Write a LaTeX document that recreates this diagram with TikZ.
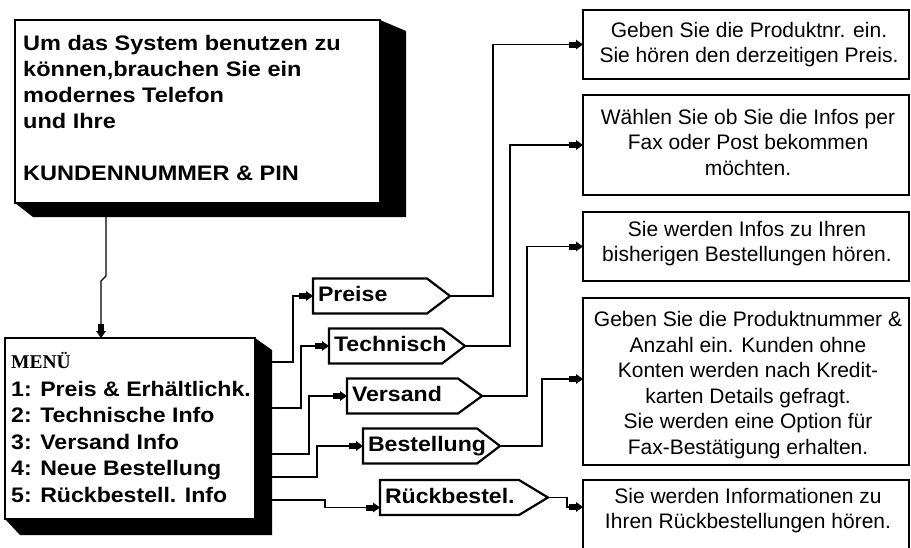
\documentclass[tikz,border=0pt]{standalone}
\usepackage{fontspec}
\setmainfont{Liberation Sans}
\newfontfamily\widesans[FakeStretch=1.1]{Liberation Sans}
\newfontfamily\widersans[FakeStretch=1.12]{Liberation Sans}
\newfontfamily\menuserif{Liberation Serif}
\usetikzlibrary{arrows.meta,calc}
\newcommand\boldtxt{\widesans\bfseries\fontsize{21pt}{26pt}\selectfont}
\newcommand\infotxt{\widersans\bfseries\fontsize{21pt}{26pt}\selectfont}
\newcommand\menutxt{\widesans\bfseries\fontsize{21pt}{26.5pt}\selectfont}
\newcommand\thintxt{\fontsize{21pt}{25.5pt}\selectfont}
\newcommand\mypent[2]{\draw[pentline] (#1.north west) -- ([xshift=-#2pt]#1.north east) -- (#1.east) -- ([xshift=-#2pt]#1.south east) -- (#1.south west) -- cycle;}
\begin{document}
\begin{tikzpicture}[x=1pt,y=-1pt,
  arr/.style={line width=1.4pt,-{Rectangle[length=7pt,width=6pt,sep=0pt]Triangle[length=7pt,width=9.5pt,sep=0pt]}},
  bigbox/.style={draw,line width=1.6pt,fill=white,inner sep=0pt,outer sep=0pt,anchor=north west},
  infobox/.style={draw,line width=1.4pt,inner sep=0pt,outer sep=0pt,anchor=north west,minimum width=326pt},
  boxtext/.style={align=center,font=\thintxt,inner sep=0pt},
  pnode/.style={inner xsep=5pt,inner ysep=0pt,outer sep=0pt,minimum height=35pt,text height=15pt,text depth=4pt,align=left,font=\boldtxt,anchor=west},
  pentline/.style={line width=2.2pt,line join=miter}]
\useasboundingbox (0,0) rectangle (911,547);
\fill[white] (0,0) rectangle (911,547);

% top information box
\node[bigbox,minimum width=365pt,minimum height=183pt] (info) at (15,20) {};
\fill (info.north east) -- ++(26,11) -- ($(info.south east)+(26,14)$) -- ($(info.south west)+(18,14)$) -- (info.south west) -- (info.south east) -- cycle;
\node[anchor=north west,inner sep=0pt,align=left,font=\infotxt] (infot) at (23,35)
  {Um das System benutzen zu\\können,brauchen Sie ein\\modernes Telefon\\und Ihre\\[26pt]KUNDENNUMMER \& PIN};

% menu box
\node[bigbox,minimum width=250pt,minimum height=181pt] (menu) at (5,338) {};
\fill (menu.north east) -- ++(17,12) -- ($(menu.south east)+(17,16)$) -- ($(menu.south west)+(15,16)$) -- (menu.south west) -- (menu.south east) -- cycle;
\node[anchor=north west,inner sep=0pt,align=left,font=\menutxt] (menut) at (11,352)
  {{\menuserif\bfseries\fontsize{19.5pt}{26.5pt}\selectfont MENÜ}\\[1.5pt]1: Preis \& Erhältlichk.\\2: Technische Info\\3: Versand Info\\4: Neue Bestellung\\5: Rückbestell. Info};

% connector top box -> menu
\coordinate (t0) at (106,217);
\coordinate (t1) at (101,338);
\draw[arr] (t0) -- (106,276) -- (101,281) -- (t1);

% option shapes
\node[pnode,minimum width=137pt,text width=127pt] (p1) at (313,296) {\mbox{Preise}};
\node[pnode,minimum width=136pt,text width=126pt] (p2) at (329,346) {\mbox{Technisch}};
\node[pnode,minimum width=135pt,text width=125pt] (p3) at (347,396) {\mbox{Versand}};
\node[pnode,minimum width=137pt,text width=127pt] (p4) at (363,446) {\mbox{Bestellung}};
\node[pnode,minimum width=168pt,text width=158pt] (p5) at (380,497.5) {\mbox{Rückbestel.}};
\mypent{p1}{23}
\mypent{p2}{23}
\mypent{p3}{24}
\mypent{p4}{23}
\mypent{p5}{29}

% menu -> shapes
\coordinate (o1) at (272,362);
\coordinate (o2) at (272,408);
\coordinate (o3) at (272,454);
\coordinate (o4) at (272,477);
\coordinate (o5) at (272,500);
\draw[arr] (o1) -- ++(21,0) |- (p1.west);
\draw[arr] (o2) -- ++(29,0) |- (p2.west);
\draw[arr] (o3) -- ++(37,0) |- (p3.west);
\draw[arr] (o4) -- ++(45,0) |- (p4.west);
\draw[arr] (o5) -- ++(53,0) |- ([yshift=-10pt]p5.west);

% right boxes
\node[infobox,minimum height=69pt] (r1) at (583,10) {};
\node[infobox,minimum height=100pt] (r2) at (583,95) {};
\node[infobox,minimum height=69pt] (r3) at (583,212) {};
\node[infobox,minimum height=167pt] (r4) at (583,298) {};
\node[infobox,minimum height=69pt] (r5) at (583,480) {};

\node[boxtext] (r1t) at (749,44.5) {Geben Sie die Produktnr. ein.\\Sie hören den derzeitigen Preis.};
\node[boxtext] (r2t) at (748,142) {Wählen Sie ob Sie die Infos per\\Fax oder Post bekommen\\möchten.};
\node[boxtext] (r3t) at (747,243.5) {Sie werden Infos zu Ihren\\bisherigen Bestellungen hören.};
\node[boxtext] (r4t) at (748,385) {Geben Sie die Produktnummer \&\\Anzahl ein. Kunden ohne\\Konten werden nach Kredit-\\karten Details gefragt.\\Sie werden eine Option für\\Fax-Bestätigung erhalten.};
\node[boxtext] (r5t) at (748,510.5) {Sie werden Informationen zu\\Ihren Rückbestellungen hören.};

% shapes -> right boxes
\draw[arr] (p1.east) -- ++(43,0) |- (r1.west);
\draw[arr] (p2.east) -- ++(45,0) |- (r2.west);
\draw[arr] (p3.east) -- ++(45,0) |- (r3.west);
\draw[arr] (p4.east) -- ++(42,0) |- ([yshift=2.5pt]r4.west);
\draw[arr] (p5.east) -- ++(19,0) |- ([yshift=7.5pt]r5.west);
\end{tikzpicture}
\end{document}
